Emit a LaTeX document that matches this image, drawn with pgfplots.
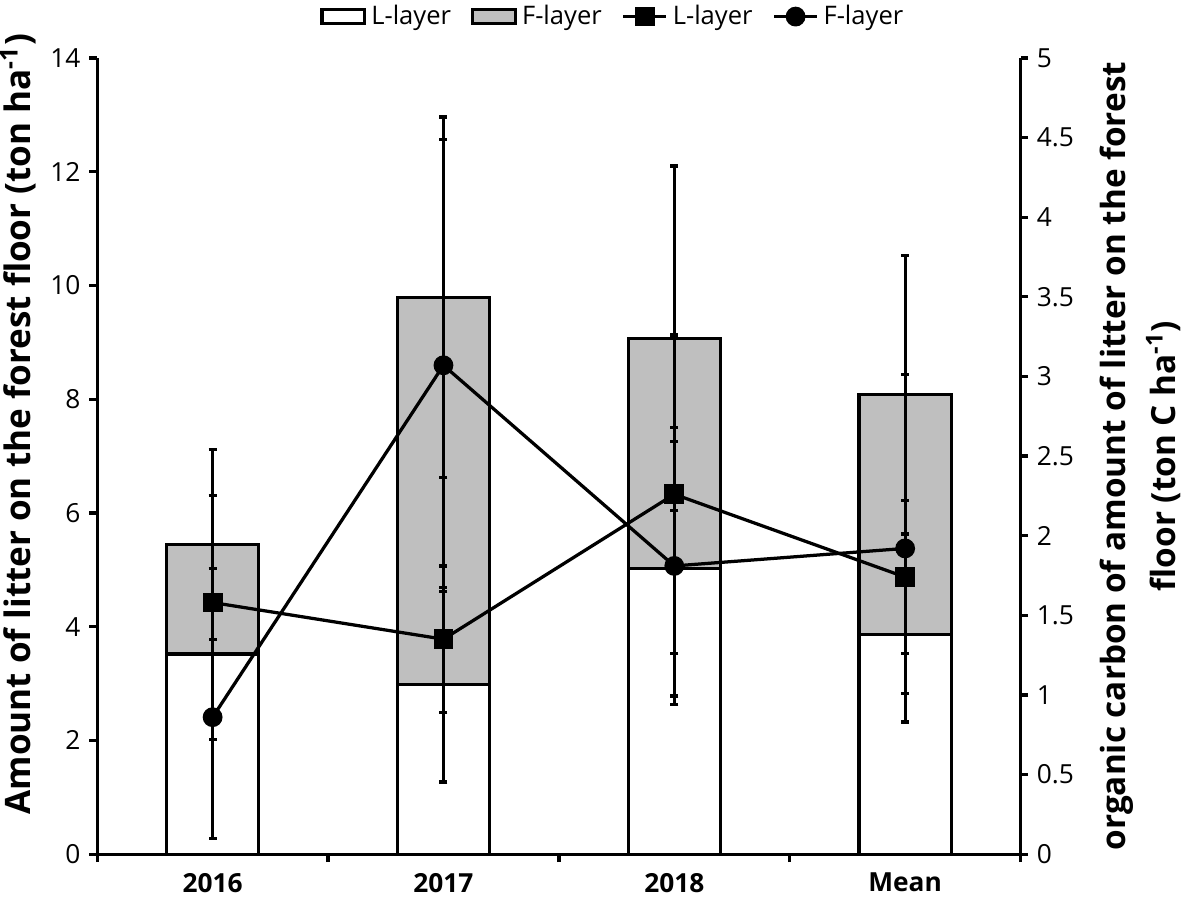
\documentclass[border=0pt]{standalone}
\usepackage{pgfplots}
\pgfplotsset{compat=1.18}
\usepackage{pgfplotstable}
\usepackage{fontspec}
\setmainfont{Open Sans}
\definecolor{barfill}{RGB}{191,191,191}

\pgfplotstableread{
x L F Lerr Ferr
0 3.52 1.92 1.50 1.67
1 2.98 6.81 1.71 3.17
2 5.02 4.05 2.24 3.03
3 3.86 4.22 1.04 2.45
}\bars

\pgfplotstableread{
x C Cerr
0 1.58 0.67
1 1.35 0.46
2 2.26 1.00
3 1.74 0.48
}\Lline

\pgfplotstableread{
x C Cerr
0 0.86 0.76
1 3.07 1.42
2 1.81 0.87
3 1.92 1.09
}\Fline

\begin{document}
\begin{tikzpicture}
\pgfplotsset{
  common/.style={
    scale only axis, width=368.8pt, height=318pt,
    xmin=-0.5, xmax=3.5, ymin=0,
    tick align=outside,
    /pgf/number format/assume math mode=true,
    tick label style={font=\fontsize{10.5}{13}\selectfont},
    axis line style={line width=1.3pt},
    major tick length=3pt,
    every tick/.style={line width=1.3pt, black},
    error bars/error bar style={line width=1.3pt},
    error bars/error mark options={line width=1.3pt, mark size=1.6pt, rotate=90},
  }
}
\begin{axis}[common,
  ybar=0pt, bar shift=0pt, bar width=36.8pt,
  ymax=14, ytick={0,2,...,14},
  axis y line*=left, axis x line*=bottom,
  xtick={-0.5,0.5,1.5,2.5,3.5}, xticklabels={},
  major tick length=3.2pt,
  extra x ticks={0,1,2,3},
  extra x tick labels={2016,2017,2018,Mean},
  extra x tick style={major tick length=0pt, xticklabel style={font=\bfseries\fontsize{10.5}{13}\selectfont, yshift=-4pt}},
  every axis y label/.style={at={(axis description cs:-0.0857,0.54)}, rotate=90, anchor=center, inner sep=0pt, font=\bfseries\fontsize{14}{16}\selectfont},
  ylabel={Amount of litter on the forest floor (ton ha\textsuperscript{-1})},
]
\addplot[fill=barfill, draw=black, line width=1.3pt,
  error bars/.cd, y dir=both, y explicit]
  table[x=x, y expr=\thisrow{L}+\thisrow{F}, y error=Ferr]{\bars};
\addplot[fill=white, draw=black, line width=1.3pt,
  error bars/.cd, y dir=both, y explicit]
  table[x=x, y=L, y error=Lerr]{\bars};
\end{axis}
\begin{axis}[common,
  ymax=5, ytick={0,0.5,...,5},
  axis y line*=right, axis x line=none,
  every axis y label/.style={at={(axis description cs:1.13,0.5)}, rotate=90, anchor=center, align=center, inner sep=0pt, font=\bfseries\fontsize{13.3}{20}\selectfont},
  ylabel={organic carbon of amount of litter on the forest\\floor (ton C ha\textsuperscript{-1})},
  legend columns=4,
  legend style={at={(axis description cs:0.56,1.052)}, anchor=center, draw=none, fill=none, inner sep=0pt,
    font=\fontsize{10.2}{12}\selectfont, /tikz/every even column/.append style={column sep=6pt}},
  legend cell align=left,
]
\addlegendimage{area legend, draw=black, fill=white, line width=1.3pt}
\addlegendentry{L-layer}
\addlegendimage{area legend, draw=black, fill=barfill, line width=1.3pt}
\addlegendentry{F-layer}
\addplot[black, line width=1.3pt, mark=square*, mark size=3.3pt, mark options={solid},
  error bars/.cd, y dir=both, y explicit]
  table[x=x, y=C, y error=Cerr]{\Lline};
\addlegendentry{L-layer}
\addplot[black, line width=1.3pt, mark=*, mark size=3.3pt,
  error bars/.cd, y dir=both, y explicit]
  table[x=x, y=C, y error=Cerr]{\Fline};
\addlegendentry{F-layer}
\end{axis}
\end{tikzpicture}
\end{document}
